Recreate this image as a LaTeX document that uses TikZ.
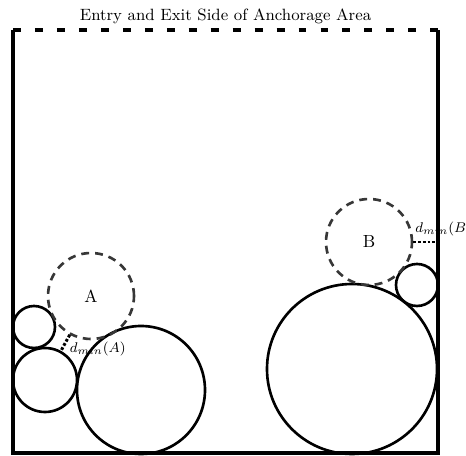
\documentclass[tikz,border=0pt]{standalone}
\definecolor{ShipGray}{RGB}{55,55,55}
\usepackage{amsmath,amssymb}
\usepackage{tikz}
\usetikzlibrary{positioning,calc}

\begin{document}
\begin{tikzpicture}[
    wall/.style={line width=2.3pt},
    entry/.style={line width=2.3pt,dash pattern=on 4.5pt off 8pt},
    ship/.style={draw,circle,line width=1.5pt,inner sep=0pt,minimum size=#1},
    newship/.style={draw=ShipGray,circle,line width=1.5pt,dash pattern=on 4.5pt off 3.4pt,inner sep=0pt,minimum size=#1},
    gap/.style={line width=1.7pt,dash pattern=on 1.6pt off 1.1pt},
    dist/.style={anchor=west,inner sep=0pt,font=\fontsize{8.3}{10}\selectfont}
  ]
  \useasboundingbox (0,0) rectangle (9.32,9.12);
  % corners of the anchorage area
  \coordinate (tl) at (0.26,8.52);
  \coordinate (bl) at (0.26,0.06);
  \coordinate (br) at (8.76,0.06);
  \coordinate (tr) at (8.76,8.52);

  % anchored ships, left
  \node[ship=0.84cm] (s1) at (0.68,2.58) {};
  \node[ship=1.28cm] (s2) at (0.90,1.52) {};
  \node[ship=2.56cm] (s3) at (2.82,1.32) {};
  % anchored ships, right
  \node[ship=3.40cm] (s4) at (7.04,1.74) {};
  \node[ship=0.84cm] (s5) at (8.34,3.42) {};

  % new ships
  \node[newship=1.72cm] (A) at (1.82,3.20) {A};
  \node[newship=1.72cm] (B) at (7.38,4.28) {B};

  % minimum distances
  \coordinate (wallB) at (8.76,4.28);
  \draw[gap] (A) -- (s2);
  \draw[gap] (B) -- (wallB);
  \node[dist] (dA) at (1.39,2.14) {$d_{min}(A)$};
  \node[dist] (dB) at (8.30,4.54) {$d_{min}(B)$};

  % area boundary
  \draw[wall] (tl) -- (bl) -- (br) -- (tr);
  \draw[entry] (tl) -- (tr);
  \node[above=0pt of {$(tl)!0.5!(tr)$},font=\fontsize{9.3}{11}\selectfont] (title) {Entry and Exit Side of Anchorage Area};
\end{tikzpicture}
\end{document}
